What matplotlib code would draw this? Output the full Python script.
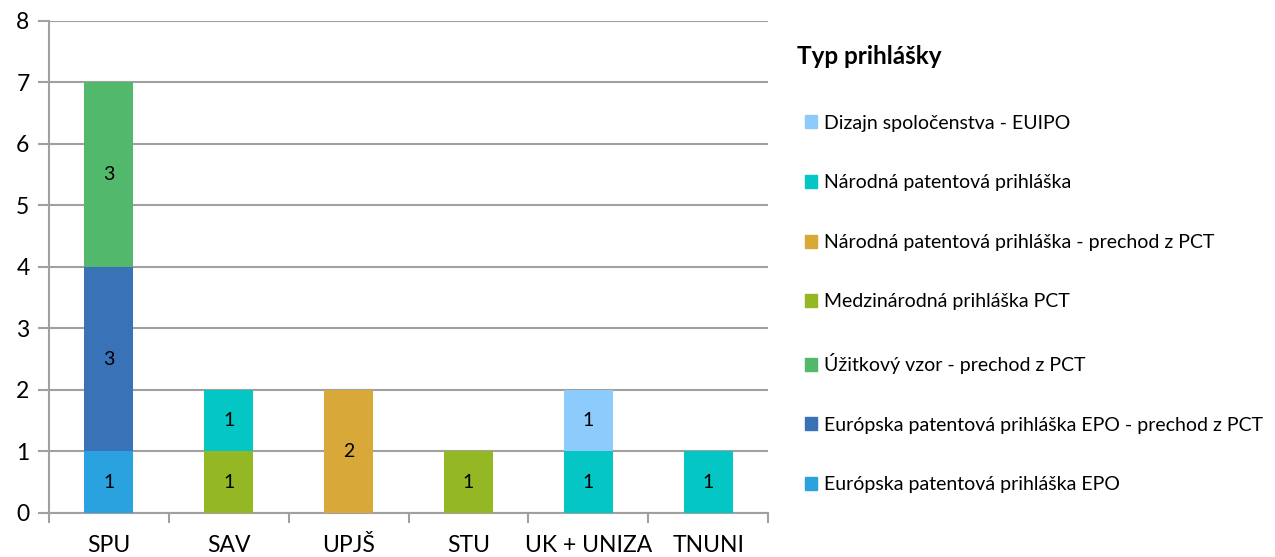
import matplotlib.pyplot as plt
import numpy as np
from matplotlib.patches import Patch

plt.rcParams['font.family'] = ['Lato', 'DejaVu Sans']

schools = ['SPU', 'SAV', 'UPJŠ', 'STU', 'UK + UNIZA', 'TNUNI']

# series, bottom of the stack first
series_names = [
    'Európska patentová prihláška EPO',
    'Európska patentová prihláška EPO - prechod z PCT',
    'Úžitkový vzor - prechod z PCT',
    'Medzinárodná prihláška PCT',
    'Národná patentová prihláška - prechod z PCT',
    'Národná patentová prihláška',
    'Dizajn spoločenstva - EUIPO',
]
epo = [1, 0, 0, 0, 0, 0]
epo_pct = [3, 0, 0, 0, 0, 0]
uzitkovy = [3, 0, 0, 0, 0, 0]
medzinarodna = [0, 1, 0, 1, 0, 0]
narodna_pct = [0, 0, 2, 0, 0, 0]
narodna = [0, 1, 0, 0, 1, 1]
dizajn = [0, 0, 0, 0, 1, 0]

colors = ['#2aa2df', '#3a72b8', '#52b86c', '#93b824', '#d8a838', '#04c6c4', '#8dcbfc']

fig = plt.figure(figsize=(12.75, 5.57), dpi=100)
ax = fig.add_axes([0.0384, 0.079, 0.564, 0.8833])

x = np.arange(len(schools))
bottom = np.zeros(len(schools))
handles = []
for name, vals, col in zip(series_names,
                           [epo, epo_pct, uzitkovy, medzinarodna, narodna_pct, narodna, dizajn],
                           colors):
    vals = np.array(vals, dtype=float)
    bars = ax.bar(x, vals, 0.41, bottom=bottom, color=col, zorder=3)
    labels = [f'{int(v)}' if v > 0 else '' for v in vals]
    ax.bar_label(bars, labels=labels, label_type='center', fontsize=14, color='black')
    bottom += vals
    handles.append(Patch(color=col, label=name))

ax.set_xlim(-0.5, len(schools) - 0.5)
ax.set_ylim(0, 8)
ax.set_yticks(range(0, 9))
ax.yaxis.grid(True, color='#a0a0a0', linewidth=1.5, zorder=0)
for sp in ['top', 'right']:
    ax.spines[sp].set_visible(False)
for sp in ['left', 'bottom']:
    ax.spines[sp].set_color('#a0a0a0')
    ax.spines[sp].set_linewidth(1.5)

ax.set_xticks(x)
ax.set_xticklabels(schools, fontsize=16.5)
ax.tick_params(axis='x', length=0, pad=16)
ax.set_xticks(np.arange(-0.5, len(schools)), minor=True)
ax.tick_params(axis='x', which='minor', length=7, width=1.5, color='#a0a0a0')
ax.tick_params(axis='y', length=8, width=1.5, color='#a0a0a0', labelsize=16.5, pad=6)

fig.text(797 / 1275, 1 - 57 / 557, 'Typ prihlášky', fontsize=17.5, fontweight='bold',
         ha='left', va='center')
leg = fig.legend(handles=handles[::-1], loc='upper left', bbox_to_anchor=(0.631, 0.794),
                 frameon=False, fontsize=14, borderpad=0, borderaxespad=0,
                 handlelength=0.65, handleheight=0.65, handletextpad=0.35,
                 labelspacing=2.19)

fig.savefig('out.png', dpi=100)
